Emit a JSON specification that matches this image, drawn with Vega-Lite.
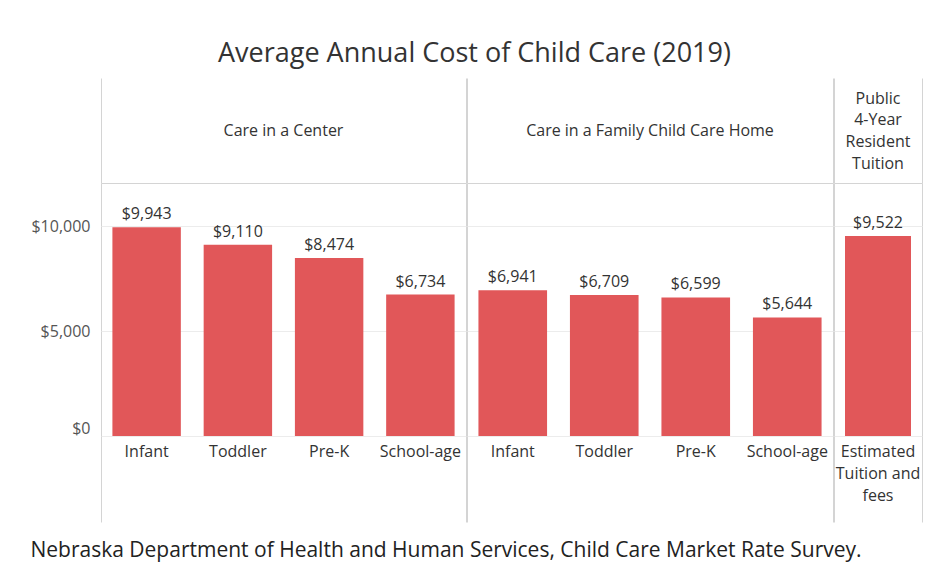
{
  "$schema": "https://vega.github.io/schema/vega-lite/v6.json",
  "padding": {"left": 30, "top": 40, "right": 8, "bottom": 4},
  "background": "white",
  "title": {"text": "Average Annual Cost of Child Care (2019)", "fontSize": 27, "fontWeight": "normal", "color": "#333333", "anchor": "middle", "dx": -2, "offset": 10},
  "data": {"values": [
    {"panel": "center", "group": "Care in a Center", "cat": "Infant", "label": "Infant", "value": 9943},
    {"panel": "center", "group": "Care in a Center", "cat": "Toddler", "label": "Toddler", "value": 9110},
    {"panel": "center", "group": "Care in a Center", "cat": "Pre-K", "label": "Pre-K", "value": 8474},
    {"panel": "center", "group": "Care in a Center", "cat": "School-age", "label": "School-age", "value": 6734},
    {"panel": "home", "group": "Care in a Family Child Care Home", "cat": "Infant", "label": "Infant", "value": 6941},
    {"panel": "home", "group": "Care in a Family Child Care Home", "cat": "Toddler", "label": "Toddler", "value": 6709},
    {"panel": "home", "group": "Care in a Family Child Care Home", "cat": "Pre-K", "label": "Pre-K", "value": 6599},
    {"panel": "home", "group": "Care in a Family Child Care Home", "cat": "School-age", "label": "School-age", "value": 5644},
    {"panel": "public", "group": "Public\n4-Year\nResident\nTuition", "cat": "Estimated Tuition and fees", "label": "Estimated\nTuition and\nfees", "value": 9522}
  ]},
  "vconcat": [
    {
      "title": {"text": "Nebraska Department of Health and Human Services, Child Care Market Rate Survey.", "orient": "bottom", "anchor": "start", "offset": 18, "fontSize": 21, "fontWeight": "normal", "color": "#222222"},
      "spacing": -3,
      "resolve": {"scale": {"x": "independent", "y": "independent", "xOffset": "independent"}},
      "hconcat": [
        {
          "spacing": 0,
          "bounds": "flush",
          "resolve": {"scale": {"x": "independent", "y": "independent", "xOffset": "independent"}},
          "vconcat": [
            {
              "width": 365, "height": 105,
              "transform": [{"filter": "datum.panel === 'center'"}, {"aggregate": [{"op": "count", "as": "n"}], "groupby": ["group"]}],
              "mark": {"type": "text", "fontSize": 16, "lineHeight": 22, "color": "#333333", "lineBreak": "\n", "baseline": "middle"},
              "encoding": {
                "x": {"field": "group", "type": "nominal", "scale": {"paddingInner": 0, "paddingOuter": 0}, "axis": {"grid": true, "tickBand": "extent", "labels": false, "ticks": false, "domain": false, "title": null, "gridColor": "#d4d4d4", "minExtent": 0, "maxExtent": 0}},
                "text": {"field": "group"}
              }
            },
            {
              "width": 365, "height": 253,
              "view": {"stroke": "#d4d4d4"},
              "transform": [{"filter": "datum.panel === 'center'"}],
              "encoding": {
                "x": {"field": "cat", "type": "nominal", "sort": null, "scale": {"paddingInner": 0.25, "paddingOuter": 0.125}, "axis": null},
                "y": {"field": "value", "type": "quantitative", "scale": {"domain": [0, 12048], "nice": false}, "axis": {"values": [0, 5000, 10000], "format": "$,.0f", "title": null, "domain": false, "ticks": false, "labelPadding": 11, "labelFontSize": 16, "labelColor": "#555555", "gridColor": "#ececec", "labelFlush": true}}
              },
              "layer": [
                {"mark": {"type": "bar", "color": "#E15759"}},
                {"mark": {"type": "text", "baseline": "bottom", "dy": -5, "fontSize": 16, "color": "#333333"}, "encoding": {"text": {"field": "value", "type": "quantitative", "format": "$,.0f"}}}
              ]
            },
            {
              "width": 365, "height": 86,
              "transform": [{"filter": "datum.panel === 'center'"}],
              "mark": {"type": "text", "baseline": "top", "dy": -35, "fontSize": 16, "lineHeight": 22, "color": "#333333", "lineBreak": "\n"},
              "encoding": {
                "x": {"field": "panel", "type": "nominal", "scale": {"paddingInner": 0, "paddingOuter": 0}, "axis": {"grid": true, "tickBand": "extent", "labels": false, "ticks": false, "domain": false, "title": null, "gridColor": "#d4d4d4", "minExtent": 0, "maxExtent": 0}},
                "xOffset": {"field": "cat", "type": "nominal", "sort": null, "scale": {"type": "point", "padding": 0.5}},
                "text": {"field": "label"}
              }
            }
          ]
        },
        {
          "spacing": 0,
          "bounds": "flush",
          "resolve": {"scale": {"x": "independent", "y": "independent", "xOffset": "independent"}},
          "vconcat": [
            {
              "width": 366, "height": 105,
              "transform": [{"filter": "datum.panel === 'home'"}, {"aggregate": [{"op": "count", "as": "n"}], "groupby": ["group"]}],
              "mark": {"type": "text", "fontSize": 16, "lineHeight": 22, "color": "#333333", "lineBreak": "\n", "baseline": "middle"},
              "encoding": {
                "x": {"field": "group", "type": "nominal", "scale": {"paddingInner": 0, "paddingOuter": 0}, "axis": {"grid": true, "tickBand": "extent", "labels": false, "ticks": false, "domain": false, "title": null, "gridColor": "#d4d4d4", "minExtent": 0, "maxExtent": 0}},
                "text": {"field": "group"}
              }
            },
            {
              "width": 366, "height": 253,
              "view": {"stroke": "#d4d4d4"},
              "transform": [{"filter": "datum.panel === 'home'"}],
              "encoding": {
                "x": {"field": "cat", "type": "nominal", "sort": null, "scale": {"paddingInner": 0.25, "paddingOuter": 0.125}, "axis": null},
                "y": {"field": "value", "type": "quantitative", "scale": {"domain": [0, 12048], "nice": false}, "axis": {"values": [0, 5000, 10000], "title": null, "domain": false, "ticks": false, "labels": false, "gridColor": "#ececec", "minExtent": 0, "maxExtent": 0, "labelPadding": 0}}
              },
              "layer": [
                {"mark": {"type": "bar", "color": "#E15759"}},
                {"mark": {"type": "text", "baseline": "bottom", "dy": -5, "fontSize": 16, "color": "#333333"}, "encoding": {"text": {"field": "value", "type": "quantitative", "format": "$,.0f"}}}
              ]
            },
            {
              "width": 366, "height": 86,
              "transform": [{"filter": "datum.panel === 'home'"}],
              "mark": {"type": "text", "baseline": "top", "dy": -35, "fontSize": 16, "lineHeight": 22, "color": "#333333", "lineBreak": "\n"},
              "encoding": {
                "x": {"field": "panel", "type": "nominal", "scale": {"paddingInner": 0, "paddingOuter": 0}, "axis": {"grid": true, "tickBand": "extent", "labels": false, "ticks": false, "domain": false, "title": null, "gridColor": "#d4d4d4", "minExtent": 0, "maxExtent": 0}},
                "xOffset": {"field": "cat", "type": "nominal", "sort": null, "scale": {"type": "point", "padding": 0.5}},
                "text": {"field": "label"}
              }
            }
          ]
        },
        {
          "spacing": 0,
          "bounds": "flush",
          "resolve": {"scale": {"x": "independent", "y": "independent", "xOffset": "independent"}},
          "vconcat": [
            {
              "width": 88, "height": 105,
              "transform": [{"filter": "datum.panel === 'public'"}, {"aggregate": [{"op": "count", "as": "n"}], "groupby": ["group"]}],
              "mark": {"type": "text", "fontSize": 16, "lineHeight": 21.7, "color": "#333333", "lineBreak": "\n", "baseline": "middle", "dy": -32},
              "encoding": {
                "x": {"field": "group", "type": "nominal", "scale": {"paddingInner": 0, "paddingOuter": 0}, "axis": {"grid": true, "tickBand": "extent", "labels": false, "ticks": false, "domain": false, "title": null, "gridColor": "#d4d4d4", "minExtent": 0, "maxExtent": 0}},
                "text": {"field": "group"}
              }
            },
            {
              "width": 88, "height": 253,
              "view": {"stroke": "#d4d4d4"},
              "transform": [{"filter": "datum.panel === 'public'"}],
              "encoding": {
                "x": {"field": "cat", "type": "nominal", "sort": null, "scale": {"paddingInner": 0.25, "paddingOuter": 0.125}, "axis": null},
                "y": {"field": "value", "type": "quantitative", "scale": {"domain": [0, 12048], "nice": false}, "axis": {"values": [0, 5000, 10000], "title": null, "domain": false, "ticks": false, "labels": false, "gridColor": "#ececec", "minExtent": 0, "maxExtent": 0, "labelPadding": 0}}
              },
              "layer": [
                {"mark": {"type": "bar", "color": "#E15759"}},
                {"mark": {"type": "text", "baseline": "bottom", "dy": -5, "fontSize": 16, "color": "#333333"}, "encoding": {"text": {"field": "value", "type": "quantitative", "format": "$,.0f"}}}
              ]
            },
            {
              "width": 88, "height": 86,
              "transform": [{"filter": "datum.panel === 'public'"}],
              "mark": {"type": "text", "baseline": "top", "dy": -35, "fontSize": 16, "lineHeight": 22, "color": "#333333", "lineBreak": "\n"},
              "encoding": {
                "x": {"field": "panel", "type": "nominal", "scale": {"paddingInner": 0, "paddingOuter": 0}, "axis": {"grid": true, "tickBand": "extent", "labels": false, "ticks": false, "domain": false, "title": null, "gridColor": "#d4d4d4", "minExtent": 0, "maxExtent": 0}},
                "xOffset": {"field": "cat", "type": "nominal", "sort": null, "scale": {"type": "point", "padding": 0.5}},
                "text": {"field": "label"}
              }
            }
          ]
        }
      ]
    }
  ],
  "config": {
    "font": "Open Sans",
    "view": {"stroke": null},
    "axis": {"gridWidth": 1}
  }
}
